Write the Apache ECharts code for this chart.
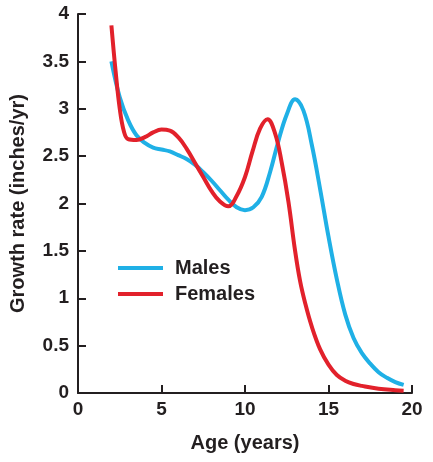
<!DOCTYPE html>
<html>
<head>
<meta charset="utf-8">
<script src="https://cdn.jsdelivr.net/npm/echarts@6/dist/echarts.min.js"></script>
<style>
    html, body { margin: 0; padding: 0; background: #fff; }
    #chart { width: 433px; height: 462px; }
</style>
</head>
<body>
<div id="chart"></div>
<script>
// Données : [âge, taux de croissance]
const malesData = [
    [2.0, 3.5], [2.5, 3.12], [3.0, 2.88], [3.5, 2.72], [4.0, 2.64],
    [4.5, 2.59], [5.0, 2.57], [5.5, 2.55], [6.0, 2.51], [6.5, 2.47],
    [7.0, 2.41], [7.5, 2.33], [8.0, 2.24], [8.5, 2.14], [9.0, 2.04],
    [9.5, 1.96], [10.0, 1.93], [10.5, 1.96], [11.0, 2.07], [11.5, 2.33],
    [12.0, 2.66], [12.5, 2.94], [13.0, 3.10], [13.5, 2.98], [14.0, 2.62],
    [14.5, 2.15], [15.0, 1.65], [15.5, 1.2], [16.0, 0.83], [16.5, 0.58],
    [17.0, 0.42], [17.5, 0.31], [18.0, 0.22], [18.5, 0.16], [19.0, 0.115],
    [19.5, 0.085]
];

const femalesData = [
    [2.0, 3.88], [2.25, 3.4], [2.5, 3.0], [2.75, 2.76], [3.0, 2.68],
    [3.5, 2.67], [4.0, 2.70], [4.5, 2.75], [5.0, 2.78], [5.5, 2.77],
    [6.0, 2.70], [6.5, 2.58], [7.0, 2.43], [7.5, 2.28], [8.0, 2.13],
    [8.5, 2.02], [9.0, 1.97], [9.5, 2.08], [10.0, 2.28], [10.45, 2.55],
    [10.9, 2.79], [11.35, 2.89], [11.8, 2.74], [12.2, 2.43], [12.6, 2.02],
    [13.0, 1.50], [13.3, 1.18], [13.6, 0.95], [14.0, 0.70], [14.5, 0.46],
    [15.0, 0.30], [15.5, 0.19], [16.0, 0.13], [16.5, 0.095], [17.0, 0.075],
    [18.0, 0.045], [19.0, 0.03], [19.5, 0.025]
];

const seriesNames = ["Males", "Females"];
const seriesColors = ["#1fb0e6", "#e2212b"];

const axisColor = "#231f20";
const fontFamily = "Liberation Sans, Arial, sans-serif";

const chart = echarts.init(document.getElementById("chart"));

const axisCommon = {
    type: "value",
    nameLocation: "middle",
    nameTextStyle: { color: axisColor, fontSize: 20, fontWeight: "bold", fontFamily },
    axisLine: { show: true, lineStyle: { color: axisColor, width: 2 } },
    axisTick: { show: true, inside: true, length: 8, lineStyle: { color: axisColor, width: 2 } },
    axisLabel: { color: axisColor, fontSize: 19, fontWeight: "bold", fontFamily },
    splitLine: { show: false }
};

chart.setOption({
    animation: false,
    grid: { left: 77, right: 21, top: 14, bottom: 69 },
    legend: {
        orient: "vertical",
        left: 113,
        top: 253,
        itemGap: 6,
        itemWidth: 45,
        itemHeight: 4,
        icon: "rect",
        textStyle: { color: axisColor, fontSize: 20, fontWeight: "bold", fontFamily, padding: [0, 0, 0, 7] },
        data: seriesNames
    },
    xAxis: Object.assign({}, axisCommon, {
        name: "Age (years)",
        nameGap: 40,
        min: 0,
        max: 20,
        interval: 5,
        axisLabel: Object.assign({}, axisCommon.axisLabel, { margin: 7 })
    }),
    yAxis: Object.assign({}, axisCommon, {
        name: "Growth rate (inches/yr)",
        nameGap: 50,
        min: 0,
        max: 4,
        interval: 0.5,
        axisLabel: Object.assign({}, axisCommon.axisLabel, { margin: 9 })
    }),
    series: [
        {
            name: seriesNames[0],
            type: "line",
            data: malesData,
            smooth: 0.4,
            showSymbol: false,
            symbol: "none",
            lineStyle: { color: seriesColors[0], width: 4 },
            itemStyle: { color: seriesColors[0] }
        },
        {
            name: seriesNames[1],
            type: "line",
            data: femalesData,
            smooth: 0.4,
            showSymbol: false,
            symbol: "none",
            lineStyle: { color: seriesColors[1], width: 4 },
            itemStyle: { color: seriesColors[1] }
        }
    ]
});
</script>
</body>
</html>
